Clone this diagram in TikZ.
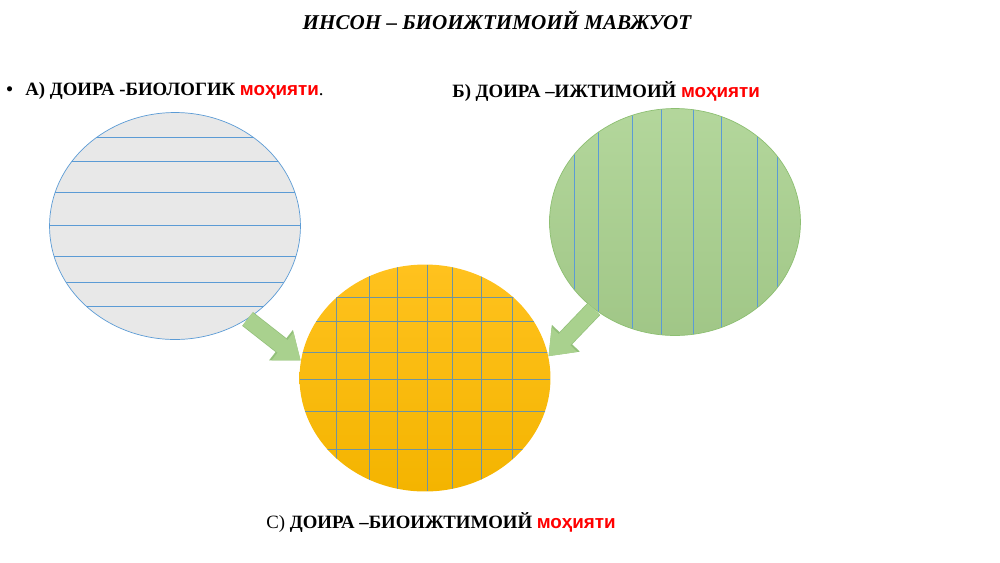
\documentclass[tikz,border=0pt]{standalone}
\usepackage{fontspec}
\setmainfont{Liberation Serif}
\newfontfamily\redsans{Liberation Sans}
\usetikzlibrary{arrows.meta}
\usetikzlibrary{positioning}
\usetikzlibrary{shapes.geometric}
\definecolor{lineblue}{HTML}{5B9BD5}
\definecolor{gridteal}{HTML}{6F94A0}
\definecolor{fieldgray}{HTML}{E8E8E8}
\definecolor{edgegreen}{HTML}{8DBF72}
\definecolor{arrowgreen}{HTML}{A9D18E}
\definecolor{arrowedge}{HTML}{93C07A}
\definecolor{essred}{HTML}{FF0000}
\newcommand{\ess}{{\redsans\color{essred}моҳияти}}
\tikzset {
  % big round field
  field/.style = {
    ellipse,
    minimum width = 5.02cm,
    minimum height = 4.54cm,
    inner sep = 0
  },
  % thin line inside a field
  hatch/.style = {
    draw = lineblue,
    line width = 0.5pt
  },
  gridline/.style = {
    draw = gridteal,
    line width = 0.5pt
  },
  % heading texts
  label/.style = {
    font = \bfseries\fontsize{10.7}{12}\selectfont,
    inner sep = 0
  }
}
\tikzset {
  % fat green arrow between fields
  blockarr/.style = {
    draw = arrowgreen,
    line width = 0.32cm,
    -{Triangle[length=0.46cm,width=0.68cm]},
    preaction = {
      draw = arrowedge,
      line width = 0.35cm,
      -{Triangle[length=0.5cm,width=0.74cm]}
    }
  }
}

\begin{document}
\begin{tikzpicture}[x=0.02cm, y=-0.02cm]
  \useasboundingbox (0,0) rectangle (1000,562);

  \node[label, font=\bfseries\itshape\fontsize{12}{14}\selectfont]
    (title) at (497,20) {ИНСОН – БИОИЖТИМОИЙ МАВЖУОТ};

  \node[label, anchor=west] (bullet) at (6,91) {\textbullet};
  \node[label, anchor=west] (bio-lbl) at (25,91)
    {А) ДОИРА -БИОЛОГИК \ess{\normalfont\fontsize{10.7}{12}\selectfont.}};
  \node[label, anchor=west] (ijt-lbl) at (452,91)
    {Б) ДОИРА –ИЖТИМОИЙ \ess};

  % biological field, horizontal lines
  \node[field, fill=fieldgray, draw=lineblue, line width=0.4pt,
    path picture={
      \foreach \d in {25,49,80,113,144,170,194}
        \draw[hatch] ([yshift=-\d*0.02cm]path picture bounding box.north west)
          -- ([yshift=-\d*0.02cm]path picture bounding box.north east);
    }] (bio) at (175,226) {};

  % social field, vertical lines
  \node[field, top color=arrowgreen!88!white, bottom color=arrowgreen!95!black,
    draw=edgegreen, line width=0.4pt,
    path picture={
      \foreach \d in {25,49,83,112,144,172,208,228}
        \draw[hatch] ([xshift=\d*0.02cm]path picture bounding box.north west)
          -- ([xshift=\d*0.02cm]path picture bounding box.south west);
    }] (ijt) at (675,222) {};

  % bio-social field, grid
  \node[field, top color={rgb,255:red,255;green,194;blue,30},
    bottom color={rgb,255:red,244;green,180;blue,0},
    path picture={
      \foreach \d in {37,70,98,128,153,182,213}
        \draw[gridline] ([xshift=\d*0.02cm]path picture bounding box.north west)
          -- ([xshift=\d*0.02cm]path picture bounding box.south west);
      \foreach \d in {33,57,88,115,147,185}
        \draw[gridline] ([yshift=-\d*0.02cm]path picture bounding box.north west)
          -- ([yshift=-\d*0.02cm]path picture bounding box.north east);
    }] (bioj) at (425,378) {};

  \node[label, anchor=west] (bioj-lbl) at (266,522)
    {{\normalfont С)} ДОИРА –БИОИЖТИМОИЙ \ess};

  \draw[blockarr] (bio.-52) -- (bioj.172);
  \draw[blockarr] (ijt.227) -- (bioj.10);

\end{tikzpicture}
\end{document}
